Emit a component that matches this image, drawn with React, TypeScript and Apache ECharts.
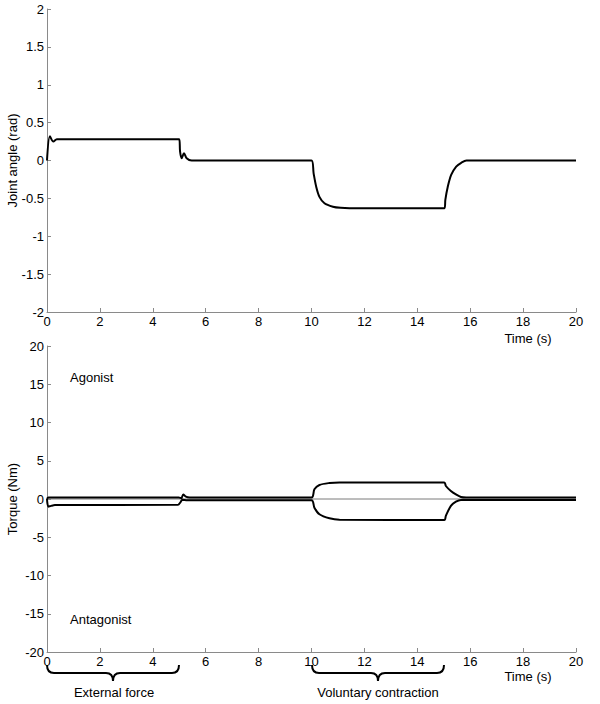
import React, { useEffect, useRef } from "react";
import * as echarts from "echarts";

// Joint angle (rad) vs time (s)
const angleT = [0, 0.11, 0.24, 0.37, 0.5, 5.0, 5.03, 5.09, 5.18, 5.28, 5.47, 10.0, 10.08, 10.18, 10.3, 10.49, 10.81, 11.1, 11.44, 15.03, 15.06, 15.15, 15.28, 15.47, 15.66, 15.86, 20];
const angleV = [0, 0.32, 0.25, 0.28, 0.28, 0.28, 0.12, 0.03, 0.095, 0.03, 0, 0, -0.17, -0.35, -0.48, -0.565, -0.61, -0.625, -0.63, -0.63, -0.52, -0.35, -0.19, -0.08, -0.03, 0, 0];

// Agonist torque (Nm)
const agoT = [0, 0.05, 4.98, 5.08, 5.15, 5.25, 5.4, 10.0, 10.11, 10.3, 10.68, 11.06, 15.02, 15.08, 15.27, 15.46, 15.65, 15.85, 20];
const agoV = [0, 0.2, 0.2, 0.1, 0.6, 0.3, 0.2, 0.2, 1.27, 1.83, 2.09, 2.17, 2.17, 1.7, 1.05, 0.6, 0.26, 0.2, 0.2];

// Antagonist torque (Nm)
const antT = [0, 0.05, 0.15, 0.3, 4.95, 5.05, 5.12, 5.3, 10.0, 10.11, 10.3, 10.68, 11.06, 15.02, 15.08, 15.27, 15.46, 15.65, 15.85, 20];
const antV = [0, -1.0, -0.9, -0.8, -0.75, -0.4, -0.1, -0.15, -0.15, -1.13, -2.0, -2.52, -2.7, -2.75, -2.2, -0.9, -0.35, -0.12, -0.12, -0.12];

// Net (thin grey) line
const netT = [0, 20];
const netV = [0, 0];

const xTicks = { min: 0, max: 20, interval: 2 };
const angleTicks = { min: -2, max: 2, interval: 0.5 };
const torqueTicks = { min: -20, max: 20, interval: 5 };

const zip = (t: number[], v: number[]) => t.map((x, i) => [x, v[i]]);

const FONT = "'Liberation Sans', Arial, sans-serif";
const AXIS_GREY = "#8a8a8a";

echarts.graphic.registerShape(
  "brace",
  echarts.graphic.extendPath(
    "M0,0 Q0,8 7,8 L59,8 Q66,8 66,16 Q66,8 73,8 L125,8 Q132,8 132,0",
    {}
  )
);

export default function App() {
  const ref = useRef<HTMLDivElement>(null);
  useEffect(() => {
    if (!ref.current) return;
    document.body.style.margin = "0";
    const chart = echarts.init(ref.current, undefined, { renderer: "svg" });
    const axisCommon = {
      axisLine: { show: true, onZero: false, lineStyle: { color: AXIS_GREY, width: 1 } },
      axisTick: { show: true, inside: true, length: 4, lineStyle: { color: AXIS_GREY } },
      splitLine: { show: false },
      axisLabel: { color: "#000", fontFamily: FONT, fontSize: 13, margin: 3 },
    };
    const txt = (text: string, x: number, y: number, align = "center") => ({
      type: "text",
      x,
      y,
      style: { text, fill: "#000", font: `13px ${FONT}`, textAlign: align, textVerticalAlign: "middle" },
    });
    chart.setOption({
      animation: false,
      backgroundColor: "#fff",
      grid: [
        { left: 47, width: 529, top: 9, height: 303, containLabel: false, outerBoundsMode: "none" },
        { left: 47, width: 529, top: 346, height: 306, containLabel: false, outerBoundsMode: "none" },
      ],
      xAxis: [
        { type: "value", gridIndex: 0, ...xTicks, ...axisCommon },
        { type: "value", gridIndex: 1, ...xTicks, ...axisCommon },
      ],
      yAxis: [
        {
          type: "value",
          gridIndex: 0,
          ...angleTicks,
          ...axisCommon,
          name: "Joint angle (rad)",
          nameLocation: "middle",
          nameGap: 28,
          nameMoveOverlap: false,
          nameTextStyle: { color: "#000", fontFamily: FONT, fontSize: 13 },
        },
        {
          type: "value",
          gridIndex: 1,
          ...torqueTicks,
          ...axisCommon,
          name: "Torque (Nm)",
          nameLocation: "middle",
          nameGap: 28,
          nameMoveOverlap: false,
          nameTextStyle: { color: "#000", fontFamily: FONT, fontSize: 13 },
        },
      ],
      series: [
        {
          type: "line",
          xAxisIndex: 0,
          yAxisIndex: 0,
          data: zip(angleT, angleV),
          showSymbol: false,
          smooth: 0.3,
          lineStyle: { color: "#000", width: 2 },
        },
        {
          type: "line",
          xAxisIndex: 1,
          yAxisIndex: 1,
          data: zip(netT, netV),
          showSymbol: false,
          lineStyle: { color: "#7a7a7a", width: 1 },
        },
        {
          type: "line",
          xAxisIndex: 1,
          yAxisIndex: 1,
          data: zip(agoT, agoV),
          showSymbol: false,
          smooth: 0.3,
          lineStyle: { color: "#000", width: 2 },
        },
        {
          type: "line",
          xAxisIndex: 1,
          yAxisIndex: 1,
          data: zip(antT, antV),
          showSymbol: false,
          smooth: 0.3,
          lineStyle: { color: "#000", width: 2 },
        },
      ],
      graphic: [
        txt("Time (s)", 528, 338),
        txt("Agonist", 70, 377, "left"),
        txt("Antagonist", 70, 619, "left"),
        txt("Time (s)", 528, 676),
        {
          type: "brace",
          x: 47,
          y: 665,
          style: { fill: "none", stroke: "#000", lineWidth: 2 },
        },
        {
          type: "brace",
          x: 312,
          y: 665,
          style: { fill: "none", stroke: "#000", lineWidth: 2 },
        },
        txt("External force", 114, 692),
        txt("Voluntary contraction", 378, 692),
      ],
    });
    return () => chart.dispose();
  }, []);
  return <div ref={ref} style={{ width: 600, height: 704 }} />;
}
